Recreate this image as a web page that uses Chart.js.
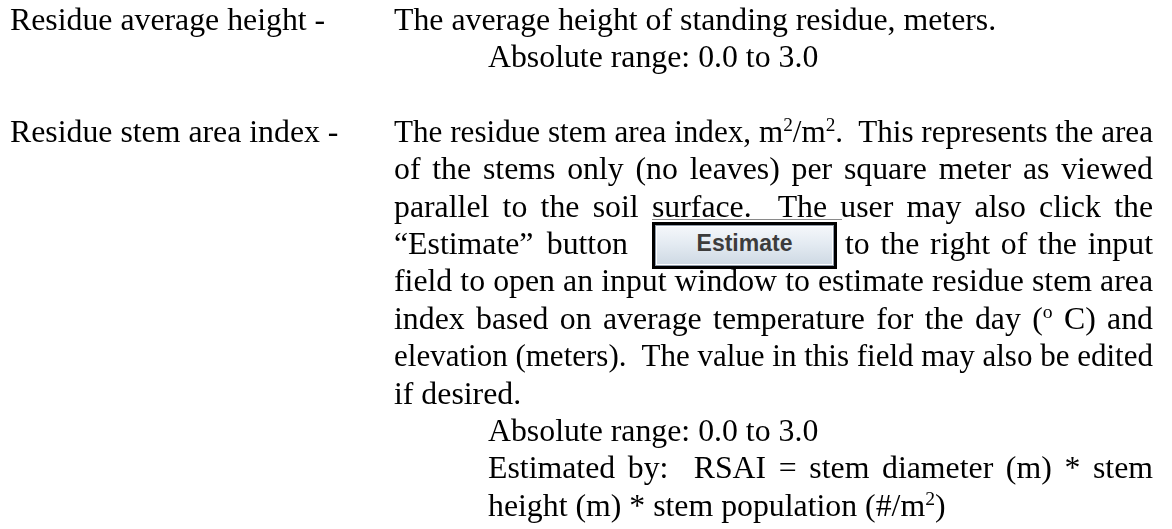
<!DOCTYPE html>
<html>
<head>
<meta charset="utf-8">
<script src="https://cdn.jsdelivr.net/npm/chart.js@4.4.1/dist/chart.umd.min.js"></script>
<style>
  html, body { margin:0; padding:0; background:#fff; }
  body { width:1172px; height:529px; position:relative; overflow:hidden; }
  #bg { position:absolute; left:0; top:0; width:1172px; height:529px; }
  .ln { position:absolute; white-space:pre; font-family:"Liberation Serif","Times New Roman",serif;
        font-size:31.8px; line-height:37.4px; height:37.4px; color:#000; }
  .ln span { display:inline-block; white-space:pre; transform-origin:0 50%; }
  sup { font-size:0.62em; line-height:0; vertical-align:baseline; position:relative; top:-0.55em; }
  .btn { position:absolute; box-sizing:border-box; border:3px solid #000;
         background:linear-gradient(#f6f8fb 0%, #e4ebf2 45%, #cdd8e3 100%);
         box-shadow: inset 0 0 0 1px #8f9baa, inset 0 0 0 2px #ffffff;
         font-family:"Liberation Sans", Arial, sans-serif; font-weight:bold; font-size:23px; color:#3c3c3c;
         display:flex; align-items:center; justify-content:center; padding-bottom:5px; }
  .edge { position:absolute; height:1px; background:#8a8a8a; }
</style>
</head>
<body>
<canvas id="bg" width="1172" height="529"></canvas>
<div id="doc"></div>
<script>
// ---- content (text values) ----
const fieldNames = ["Residue average height", "Residue stem area index"];
const rangeMin = ["0.0", "0.0"];
const rangeMax = ["3.0", "3.0"];
const buttonLabel = "Estimate";

// empty Chart.js chart (this figure has no data marks)
new Chart(document.getElementById('bg'), {
  type: 'bar',
  data: { labels: [], datasets: [] },
  options: { responsive:false, animation:false,
    plugins:{ legend:{display:false}, tooltip:{enabled:false} },
    scales:{ x:{display:false}, y:{display:false} } }
});

const doc = document.getElementById('doc');
const LH = 37.4, B0 = 30, BOFF = 29.4;
const COL = 394, RIGHT = 1153, IND = 488, LEFT = 10;
function line(n, x, html, w) {
  const d = document.createElement('div');
  d.className = 'ln';
  d.style.left = x + 'px';
  d.style.top = (B0 + LH * n - BOFF) + 'px';
  const s = document.createElement('span');
  s.innerHTML = html;
  d.appendChild(s);
  doc.appendChild(d);
  if (w) {
    const nat = s.getBoundingClientRect().width;
    const spaces = (s.textContent.match(/ /g) || []).length;
    if (nat > w) {
      s.style.transform = 'scaleX(' + (w / nat) + ')';
    } else if (spaces > 0) {
      s.style.wordSpacing = ((w - nat) / spaces) + 'px';
    }
  }
}
// Block 1
line(0, LEFT, fieldNames[0] + " -");
line(0, COL, "The average height of standing residue, meters.");
line(1, IND, "Absolute range: " + rangeMin[0] + " to " + rangeMax[0]);
// Block 2
line(3, LEFT, fieldNames[1] + " -");
line(3, COL, "The residue stem area index, m<sup>2</sup>/m<sup>2</sup>.  This represents the area", RIGHT - COL);
line(4, COL, "of the stems only (no leaves) per square meter as viewed", RIGHT - COL);
line(5, COL, "parallel to the soil surface.  The user may also click the", RIGHT - COL);
line(6, COL, "\u201CEstimate\u201D button", 628 - COL);
line(6, 845, "to the right of the input", RIGHT - 845);
line(7, COL, "field to open an input window to estimate residue stem area", RIGHT - COL);
line(8, COL, "index based on average temperature for the day (<sup>o</sup> C) and", RIGHT - COL);
line(9, COL, "elevation (meters).  The value in this field may also be edited", RIGHT - COL);
line(10, COL, "if desired.");
line(11, IND, "Absolute range: " + rangeMin[1] + " to " + rangeMax[1]);
line(12, IND, "Estimated by:  RSAI = stem diameter (m) * stem", RIGHT - IND);
line(13, IND, "height (m) * stem population (#/m<sup>2</sup>)");

// button image
const e = document.createElement('div');
e.className = 'edge';
e.style.left = '652px'; e.style.top = '219px'; e.style.width = '190px';
doc.appendChild(e);
const b = document.createElement('div');
b.className = 'btn';
b.style.left = '652px'; b.style.top = '222px'; b.style.width = '185px'; b.style.height = '47px';
b.textContent = buttonLabel;
doc.appendChild(b);
</script>
</body>
</html>
